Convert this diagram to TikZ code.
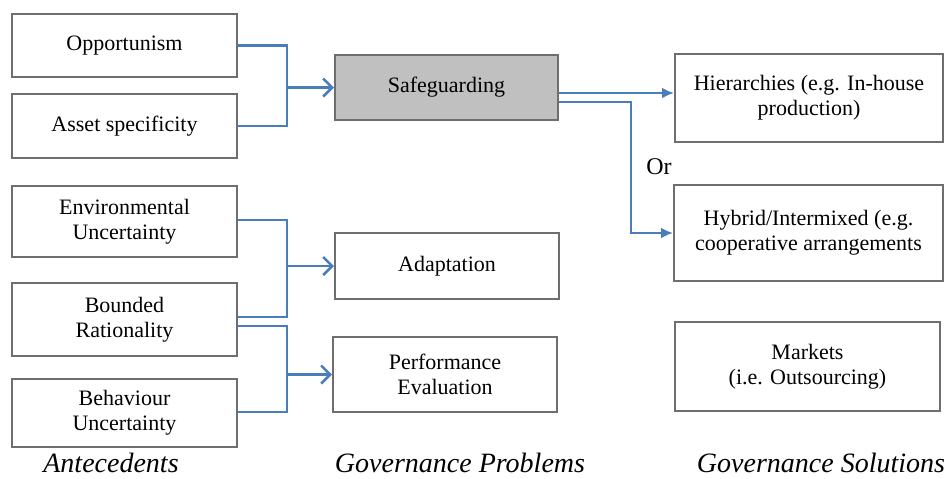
\documentclass[tikz,border=0pt]{standalone}
\usepackage{fontspec}
\setmainfont{Liberation Serif}
\usetikzlibrary{arrows.meta,calc,positioning}
\definecolor{linkblue}{RGB}{74,126,187}
\definecolor{boxgray}{RGB}{110,110,110}
\definecolor{safefill}{RGB}{192,192,192}
\tikzset{%
  >={Straight Barb[width=9pt,length=4.5pt]},
  % Specifications for style of nodes:
            base/.style = {rectangle, draw=boxgray, line width=1pt,
                           minimum width=112.5pt, minimum height=32pt,
                           text centered, align=center,
                           font=\fontsize{11}{12.5}\selectfont},
            solution/.style = {base, minimum width=134pt},
            caption/.style = {font=\itshape\fontsize{14}{16}\selectfont, inner sep=1pt},
            link/.style = {draw=linkblue, line width=1.25pt},
            choice/.style = {link, -{Latex[width=5.5pt,length=6pt]}}
                           }

\begin{document}
\begin{tikzpicture}[x=0.5pt, y=-0.5pt]
                    \useasboundingbox (0,0) rectangle (944,478);

                    % antecedents
                    \node (opport)  [base, minimum height=31.5pt] at (124.5,45.5)  {Opportunism};
                    \node (asset)   [base]                        at (124.5,126)   {Asset specificity};
                    \node (envunc)  [base, minimum height=35.5pt] at (124.5,221.5) {Environmental\\Uncertainty};
                    \node (bounded) [base, minimum height=36.5pt] at (124.5,319.5) {Bounded\\Rationality};
                    \node (behav)   [base, minimum height=34pt]   at (124.5,413)   {Behaviour\\Uncertainty};

                    % governance problems
                    \node (safe)    [base, fill=safefill, minimum width=111.5pt, minimum height=32.5pt] at (446.5,87.5) {Safeguarding};
                    \node (adapt)   [base, minimum width=112pt, minimum height=33pt] at (447,266)  {Adaptation};
                    \node (perf)    [base, minimum width=112pt, minimum height=37.5pt] at (445,374.5) {Performance\\Evaluation};

                    % governance solutions
                    \node (hier)    [solution, minimum height=44pt] at (809,98)   {Hierarchies (e.g. In-house\\production)};
                    \node (hybrid)  [solution, minimum width=134.5pt, minimum height=48pt] at (808.5,233) {Hybrid/Intermixed (e.g.\\cooperative arrangements};
                    \node (markets) [solution, minimum width=132.5pt, minimum height=44.5pt] at (807.5,366.5) {Markets\\(i.e. Outsourcing)};

                    \node (orlabel) [font=\fontsize{12}{14}\selectfont] at (659,167) {Or};

                    \node (antec)   [caption] at (111,463) {Antecedents};
                    \node (govprob) [caption] at (460,463) {Governance Problems};
                    \node (govsol)  [caption] at (821,463) {Governance Solutions};

                    \coordinate (jleft)  at (287,0);
                    \coordinate (jright) at (631,0);

                    \draw[link]  (opport.east) -| (jleft |- asset.east) -- (asset.east);
                    \draw[link, ->]  (jleft |- safe.west) -- (safe.west);

                    \draw[link]  ($(envunc.east)+(0,-1.5)$) -| ($(jleft |- bounded.east)+(0,-2.5)$) -- ($(bounded.east)+(0,-2.5)$);
                    \draw[link, ->]  (jleft |- adapt.west) -- (adapt.west);

                    \draw[link]  ($(bounded.east)+(0,6.5)$) -| ($(jleft |- behav.east)+(0,-1)$) -- ($(behav.east)+(0,-1)$);
                    \draw[link, ->]  (jleft |- perf.west) -- (perf.west);

                    \draw[choice]  ($(safe.east)+(0,5.5)$) coordinate (sone) -- (sone -| hier.west);
                    \draw[choice]  ($(safe.east)+(0,14.5)$) -| (jright |- hybrid.west) -- (hybrid.west);
                \end{tikzpicture}
\end{document}
